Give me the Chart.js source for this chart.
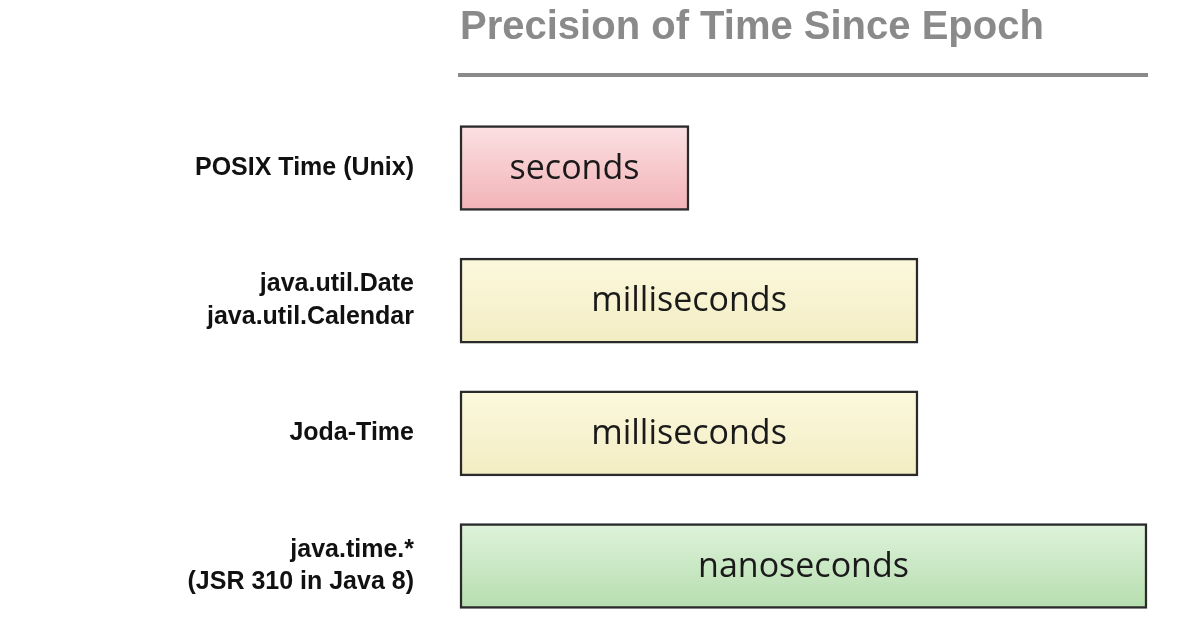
<!DOCTYPE html>
<html><head><meta charset="utf-8">
<script src="https://cdn.jsdelivr.net/npm/chart.js@4"></script>
<style>html,body{margin:0;padding:0;background:#fff}#w{width:1196px;height:628px}</style>
</head><body><div id="w"><canvas id="c"></canvas></div>
<script>
const titleText = "Precision of Time Since Epoch";
const categories = [["POSIX Time (Unix)"], ["java.util.Date","java.util.Calendar"], ["Joda-Time"], ["java.time.*","(JSR 310 in Java 8)"]];
const precisionLevel = [1, 2, 2, 3];
const barLabels = ["seconds", "milliseconds", "milliseconds", "nanoseconds"];
const colorTop = ["#fbe0e2", "#fbf8dd", "#fbf8dd", "#def2da"];
const colorBottom = ["#f2b3b8", "#f3edc3", "#f3edc3", "#b6deaf"];

const overlay = {
  id: 'overlay',
  beforeDatasetsDraw(chart) {
    const ctx = chart.ctx;
    ctx.save();
    ctx.fillStyle = '#8a8a8a';
    ctx.font = 'bold 40px "Liberation Sans", Arial, sans-serif';
    ctx.textAlign = 'left'; ctx.textBaseline = 'middle';
    ctx.fillText(titleText, 460, 28);
    ctx.fillRect(458, 73, 690, 4);
    ctx.restore();
  },
  afterDatasetsDraw(chart) {
    const ctx = chart.ctx;
    const meta = chart.getDatasetMeta(0);
    ctx.save();
    ctx.fillStyle = '#1a1a1a';
    ctx.font = '500 34px "Open Sans", sans-serif';
    ctx.textAlign = 'center'; ctx.textBaseline = 'middle';
    meta.data.forEach((b, i) => {
      const p = b.getProps(['x','y','base']);
      ctx.fillText(barLabels[i], (p.x + p.base) / 2, p.y + 1);
    });
    ctx.restore();
  }
};

new Chart(document.getElementById('c'), {
  type: 'bar',
  data: {
    labels: categories,
    datasets: [{
      data: precisionLevel,
      clip: false,
      barThickness: 85,
      borderWidth: 2.5,
      borderColor: '#2a2a2a',
      borderSkipped: false,
      backgroundColor: (c) => {
        const ch = c.chart, i = c.dataIndex;
        if (i === undefined || !ch.scales || !ch.scales.y) return colorTop[0];
        const y = ch.scales.y.getPixelForValue(i);
        if (!isFinite(y)) return colorBottom[i];
        const g = ch.ctx.createLinearGradient(0, y - 42, 0, y + 42);
        g.addColorStop(0, colorTop[i]); g.addColorStop(1, colorBottom[i]);
        return g;
      }
    }]
  },
  options: {
    indexAxis: 'y',
    responsive: true, maintainAspectRatio: false, animation: false,
    layout: { padding: { top: 168, bottom: 62, left: 0, right: 49 } },
    plugins: { legend: { display: false }, tooltip: { enabled: false }, title: { display: false } },
    scales: {
      x: { display: false, min: 0, max: 3 },
      y: {
        offset: false,
        grid: { display: false }, border: { display: false },
        afterFit: (s) => { s.width = 460; },
        ticks: { padding: 38, color: '#111', font: { family: '"Liberation Sans", Arial, sans-serif', weight: 'bold', size: 25, lineHeight: 1.3 } }
      }
    }
  },
  plugins: [overlay]
});
</script></body></html>
